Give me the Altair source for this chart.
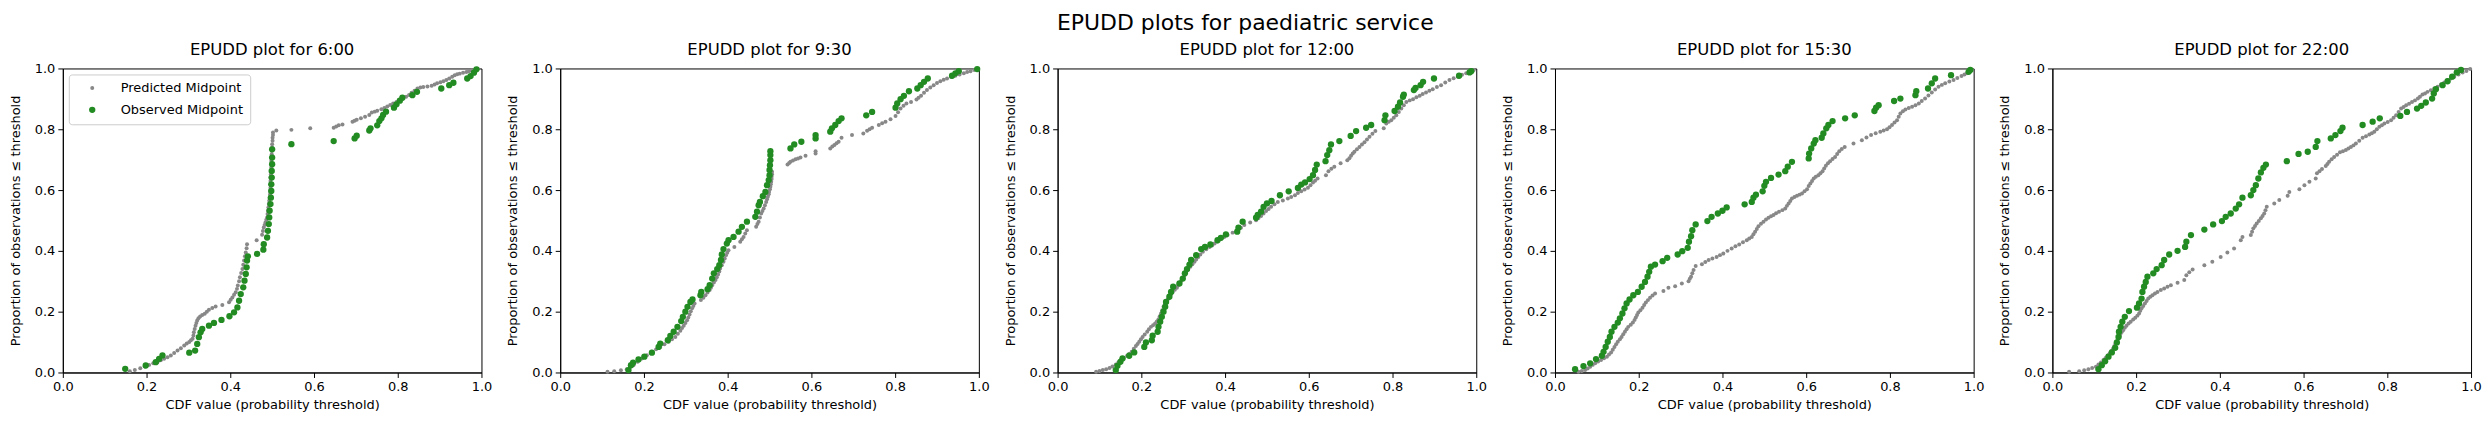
import altair as alt
import pandas as pd

TIMES = ["6:00", "9:30", "12:00", "15:30", "22:00"]
SERIES = ["Predicted Midpoint", "Observed Midpoint"]
COLORS = ["#888888", "#228B22"]
SIZES = [16, 40]
TICKS = [0.0, 0.2, 0.4, 0.6, 0.8, 1.0]

PRED_600 = [(0.160,0.004),(0.172,0.008),(0.185,0.014),(0.196,0.020),(0.206,0.025),(0.216,0.030),(0.226,0.034),
            (0.234,0.040),(0.242,0.045),(0.250,0.050),(0.258,0.056),(0.266,0.064),(0.274,0.072),(0.282,0.080),
            (0.290,0.089),(0.296,0.095),(0.302,0.100),(0.306,0.106),(0.310,0.111),(0.312,0.122),(0.313,0.132),
            (0.315,0.143),(0.317,0.154),(0.319,0.163),(0.321,0.171),(0.324,0.178),(0.328,0.184),(0.333,0.189),
            (0.339,0.193),(0.344,0.200),(0.349,0.206),(0.357,0.212),(0.365,0.217),(0.381,0.222),(0.397,0.231),
            (0.401,0.239),(0.405,0.247),(0.409,0.256),(0.413,0.264),(0.416,0.275),(0.418,0.286),(0.421,0.300),
            (0.423,0.313),(0.426,0.327),(0.429,0.340),(0.431,0.354),(0.433,0.368),(0.435,0.382),(0.437,0.395),
            (0.439,0.409),(0.440,0.422),(0.463,0.435),(0.476,0.453),(0.478,0.465),(0.480,0.477),(0.482,0.485),
            (0.484,0.493),(0.486,0.502),(0.488,0.510),(0.489,0.521),(0.490,0.532),(0.491,0.543),(0.492,0.554),
            (0.493,0.565),(0.494,0.575),(0.495,0.586),(0.495,0.597),(0.496,0.608),(0.496,0.619),(0.496,0.630),
            (0.496,0.641),(0.497,0.652),(0.497,0.663),(0.498,0.674),(0.498,0.685),(0.498,0.696),(0.498,0.707),
            (0.499,0.718),(0.499,0.729),(0.500,0.740),(0.500,0.751),(0.501,0.762),(0.501,0.772),(0.502,0.781),
            (0.502,0.789),(0.510,0.796),(0.546,0.798),(0.591,0.803),(0.647,0.805),(0.653,0.809),(0.659,0.813),
            (0.668,0.816),(0.692,0.825),(0.697,0.828),(0.702,0.831),(0.712,0.836),(0.722,0.841),(0.732,0.847),
            (0.738,0.855),(0.745,0.858),(0.751,0.861),(0.761,0.866),(0.768,0.870),(0.775,0.875),(0.782,0.880),
            (0.789,0.885),(0.797,0.890),(0.804,0.894),(0.812,0.900),(0.820,0.907),(0.827,0.913),(0.833,0.920),
            (0.840,0.927),(0.847,0.934),(0.854,0.937),(0.861,0.939),(0.871,0.941),(0.881,0.943),(0.888,0.947),
            (0.894,0.951),(0.902,0.955),(0.909,0.958),(0.916,0.962),(0.923,0.967),(0.930,0.973),(0.936,0.978),
            (0.942,0.981),(0.948,0.983),(0.956,0.986),(0.964,0.988),(0.970,0.991),(0.976,0.993),(0.984,0.996),
            (0.991,0.999)]
OBS_600 = [(0.149,0.012),(0.198,0.023),(0.222,0.034),(0.230,0.045),(0.238,0.056),(0.302,0.065),(0.316,0.072),
           (0.321,0.094),(0.325,0.116),(0.329,0.132),(0.333,0.143),(0.349,0.154),(0.361,0.163),(0.379,0.173),
           (0.398,0.185),(0.409,0.198),(0.417,0.214),(0.421,0.236),(0.425,0.258),(0.431,0.280),(0.434,0.302),
           (0.437,0.324),(0.439,0.346),(0.440,0.368),(0.442,0.382),(0.464,0.390),(0.479,0.404),(0.480,0.422),
           (0.488,0.444),(0.490,0.466),(0.492,0.488),(0.493,0.510),(0.494,0.532),(0.496,0.554),(0.497,0.575),
           (0.498,0.597),(0.498,0.619),(0.499,0.641),(0.499,0.663),(0.500,0.685),(0.500,0.707),(0.500,0.734),
           (0.546,0.751),(0.647,0.761),(0.697,0.770),(0.702,0.779),(0.732,0.796),(0.735,0.803),(0.751,0.813),
           (0.756,0.827),(0.761,0.836),(0.765,0.847),(0.772,0.858),(0.791,0.871),(0.797,0.882),(0.805,0.894),
           (0.811,0.904),(0.835,0.912),(0.846,0.923),(0.904,0.934),(0.923,0.945),(0.933,0.953),(0.966,0.967),
           (0.974,0.975),(0.982,0.986),(0.988,0.997)]

PRED_930 = [(0.113,0.002),(0.129,0.004),(0.145,0.007),(0.159,0.011),(0.167,0.017),(0.175,0.024),(0.185,0.035),
            (0.195,0.046),(0.207,0.057),(0.219,0.068),(0.229,0.076),(0.239,0.084),(0.249,0.093),(0.259,0.101),
            (0.267,0.109),(0.275,0.117),(0.281,0.127),(0.287,0.137),(0.291,0.146),(0.295,0.154),(0.299,0.163),
            (0.303,0.172),(0.306,0.181),(0.309,0.191),(0.312,0.201),(0.315,0.211),(0.318,0.219),(0.321,0.227),
            (0.336,0.238),(0.342,0.246),(0.347,0.254),(0.352,0.263),(0.357,0.271),(0.360,0.279),(0.363,0.287),
            (0.367,0.296),(0.371,0.304),(0.374,0.313),(0.377,0.322),(0.380,0.332),(0.382,0.342),(0.386,0.353),
            (0.390,0.364),(0.393,0.375),(0.396,0.386),(0.399,0.394),(0.402,0.402),(0.416,0.413),(0.430,0.430),
            (0.434,0.438),(0.438,0.446),(0.442,0.457),(0.446,0.468),(0.468,0.479),(0.471,0.488),(0.474,0.496),
            (0.477,0.510),(0.480,0.523),(0.483,0.531),(0.486,0.539),(0.489,0.550),(0.492,0.561),(0.494,0.570),
            (0.496,0.578),(0.498,0.586),(0.499,0.594),(0.501,0.603),(0.502,0.611),(0.503,0.619),(0.504,0.627),
            (0.505,0.636),(0.505,0.644),(0.506,0.652),(0.506,0.660),(0.543,0.684),(0.547,0.689),(0.550,0.693),
            (0.556,0.697),(0.562,0.701),(0.568,0.704),(0.574,0.707),(0.586,0.713),(0.610,0.720),(0.610,0.728),
            (0.645,0.737),(0.650,0.743),(0.655,0.748),(0.660,0.754),(0.665,0.759),(0.672,0.772),(0.697,0.781),
            (0.724,0.786),(0.733,0.795),(0.739,0.800),(0.745,0.805),(0.761,0.814),(0.769,0.820),(0.777,0.825),
            (0.789,0.833),(0.801,0.844),(0.807,0.856),(0.813,0.868),(0.820,0.877),(0.827,0.885),(0.838,0.890),
            (0.851,0.898),(0.856,0.904),(0.862,0.910),(0.869,0.920),(0.876,0.929),(0.884,0.937),(0.892,0.945),
            (0.900,0.952),(0.908,0.958),(0.916,0.963),(0.924,0.967),(0.934,0.972),(0.944,0.976),(0.954,0.980),
            (0.964,0.984),(0.972,0.988),(0.980,0.991),(0.989,0.995),(0.998,0.998)]
OBS_930 = [(0.163,0.008),(0.169,0.024),(0.174,0.032),(0.187,0.043),(0.201,0.052),(0.219,0.065),(0.235,0.084),
           (0.239,0.095),(0.257,0.106),(0.263,0.120),(0.271,0.134),(0.280,0.150),(0.289,0.169),(0.293,0.183),
           (0.299,0.200),(0.304,0.216),(0.311,0.232),(0.316,0.240),(0.335,0.254),(0.337,0.265),(0.352,0.274),
           (0.357,0.287),(0.363,0.309),(0.367,0.326),(0.375,0.340),(0.380,0.353),(0.384,0.370),(0.386,0.388),
           (0.390,0.406),(0.398,0.424),(0.402,0.435),(0.414,0.446),(0.426,0.463),(0.434,0.479),(0.446,0.496),
           (0.466,0.512),(0.470,0.529),(0.474,0.550),(0.477,0.561),(0.484,0.580),(0.490,0.594),(0.494,0.616),
           (0.498,0.633),(0.500,0.649),(0.500,0.666),(0.501,0.682),(0.502,0.698),(0.502,0.715),(0.502,0.728),
           (0.550,0.737),(0.559,0.750),(0.576,0.759),(0.610,0.770),(0.610,0.781),(0.645,0.792),(0.649,0.803),
           (0.657,0.814),(0.665,0.827),(0.672,0.836),(0.731,0.846),(0.745,0.857),(0.801,0.871),(0.805,0.885),
           (0.813,0.899),(0.821,0.910),(0.833,0.925),(0.853,0.934),(0.861,0.945),(0.869,0.956),(0.878,0.967),
           (0.936,0.976),(0.944,0.984),(0.952,0.991),(0.996,0.998)]

PRED_1200 = [(0.092,0.002),(0.100,0.005),(0.108,0.008),(0.116,0.011),(0.124,0.015),(0.131,0.020),(0.139,0.026),
             (0.145,0.033),(0.151,0.041),(0.158,0.048),(0.166,0.055),(0.171,0.061),(0.177,0.068),(0.182,0.078),
             (0.187,0.087),(0.191,0.094),(0.195,0.101),(0.199,0.109),(0.203,0.117),(0.208,0.125),(0.214,0.134),
             (0.218,0.142),(0.223,0.150),(0.228,0.155),(0.233,0.161),(0.237,0.168),(0.241,0.175),(0.244,0.185),
             (0.247,0.194),(0.250,0.205),(0.253,0.216),(0.256,0.224),(0.259,0.232),(0.263,0.240),(0.267,0.249),
             (0.271,0.257),(0.275,0.265),(0.280,0.272),(0.285,0.279),(0.288,0.286),(0.291,0.293),(0.295,0.301),
             (0.299,0.309),(0.303,0.319),(0.307,0.329),(0.312,0.338),(0.317,0.348),(0.322,0.356),(0.327,0.364),
             (0.331,0.372),(0.336,0.380),(0.341,0.388),(0.347,0.397),(0.355,0.405),(0.363,0.413),(0.369,0.418),
             (0.375,0.424),(0.382,0.431),(0.390,0.439),(0.398,0.446),(0.406,0.452),(0.418,0.460),(0.430,0.468),
             (0.438,0.476),(0.446,0.485),(0.460,0.493),(0.474,0.501),(0.480,0.508),(0.486,0.515),(0.492,0.523),
             (0.498,0.531),(0.504,0.538),(0.510,0.545),(0.518,0.553),(0.526,0.561),(0.538,0.566),(0.550,0.572),
             (0.558,0.577),(0.567,0.583),(0.574,0.590),(0.582,0.596),(0.590,0.602),(0.598,0.608),(0.604,0.616),
             (0.610,0.625),(0.615,0.631),(0.621,0.638),(0.641,0.649),(0.647,0.662),(0.654,0.670),(0.661,0.677),
             (0.676,0.688),(0.692,0.698),(0.697,0.705),(0.701,0.713),(0.705,0.720),(0.709,0.726),(0.715,0.734),
             (0.721,0.742),(0.727,0.750),(0.733,0.757),(0.739,0.766),(0.745,0.775),(0.752,0.785),(0.759,0.794),
             (0.779,0.803),(0.785,0.819),(0.791,0.825),(0.797,0.830),(0.803,0.838),(0.809,0.846),(0.815,0.857),
             (0.821,0.868),(0.827,0.879),(0.833,0.890),(0.841,0.895),(0.849,0.899),(0.857,0.905),(0.865,0.910),
             (0.872,0.916),(0.880,0.921),(0.888,0.927),(0.896,0.932),(0.906,0.939),(0.916,0.945),(0.926,0.954),
             (0.936,0.962),(0.946,0.968),(0.956,0.973),(0.966,0.979),(0.976,0.984),(0.985,0.990),(0.994,0.995)]
OBS_1200 = [(0.139,0.008),(0.143,0.022),(0.150,0.035),(0.155,0.046),(0.171,0.055),(0.183,0.066),(0.207,0.084),
            (0.211,0.099),(0.225,0.106),(0.227,0.121),(0.239,0.134),(0.241,0.150),(0.245,0.167),(0.249,0.183),
            (0.253,0.200),(0.257,0.216),(0.259,0.232),(0.267,0.249),(0.271,0.265),(0.276,0.282),(0.291,0.293),
            (0.299,0.309),(0.304,0.326),(0.309,0.340),(0.315,0.355),(0.319,0.370),(0.331,0.386),(0.343,0.406),
            (0.352,0.413),(0.365,0.421),(0.382,0.435),(0.390,0.443),(0.402,0.454),(0.429,0.463),(0.432,0.476),
            (0.442,0.496),(0.474,0.509),(0.478,0.518),(0.486,0.529),(0.492,0.545),(0.500,0.556),(0.511,0.564),
            (0.531,0.583),(0.552,0.596),(0.574,0.607),(0.582,0.618),(0.591,0.625),(0.602,0.636),(0.610,0.649),
            (0.615,0.666),(0.619,0.684),(0.640,0.695),(0.644,0.715),(0.649,0.731),(0.653,0.750),(0.673,0.761),
            (0.700,0.778),(0.713,0.794),(0.737,0.805),(0.749,0.814),(0.781,0.830),(0.783,0.846),(0.805,0.860),
            (0.813,0.874),(0.818,0.888),(0.825,0.907),(0.827,0.914),(0.851,0.929),(0.855,0.936),(0.867,0.945),
            (0.873,0.956),(0.899,0.967),(0.959,0.976),(0.984,0.987),(0.988,0.991)]

PRED_1530 = [(0.056,0.002),(0.064,0.005),(0.072,0.008),(0.078,0.013),(0.084,0.019),(0.090,0.025),(0.096,0.030),
             (0.103,0.036),(0.110,0.041),(0.117,0.047),(0.124,0.052),(0.129,0.059),(0.134,0.066),(0.138,0.075),
             (0.142,0.084),(0.146,0.093),(0.150,0.101),(0.155,0.109),(0.159,0.117),(0.163,0.126),(0.167,0.134),
             (0.171,0.142),(0.175,0.150),(0.181,0.157),(0.186,0.164),(0.190,0.173),(0.193,0.181),(0.196,0.189),
             (0.199,0.197),(0.204,0.205),(0.209,0.213),(0.213,0.222),(0.217,0.230),(0.222,0.238),(0.227,0.246),
             (0.233,0.253),(0.239,0.260),(0.259,0.268),(0.271,0.279),(0.287,0.284),(0.303,0.293),(0.319,0.300),
             (0.322,0.308),(0.325,0.315),(0.328,0.326),(0.331,0.337),(0.336,0.350),(0.351,0.356),(0.359,0.363),
             (0.367,0.370),(0.376,0.375),(0.386,0.380),(0.394,0.386),(0.402,0.391),(0.412,0.400),(0.422,0.408),
             (0.431,0.415),(0.440,0.421),(0.449,0.428),(0.458,0.435),(0.464,0.441),(0.470,0.446),(0.474,0.455),
             (0.478,0.463),(0.482,0.472),(0.486,0.481),(0.492,0.489),(0.498,0.496),(0.504,0.503),(0.510,0.509),
             (0.516,0.514),(0.522,0.518),(0.528,0.524),(0.535,0.529),(0.543,0.534),(0.550,0.539),(0.554,0.548),
             (0.558,0.556),(0.562,0.564),(0.566,0.572),(0.572,0.577),(0.578,0.581),(0.584,0.585),(0.590,0.589),
             (0.596,0.596),(0.602,0.603),(0.606,0.613),(0.610,0.622),(0.614,0.630),(0.618,0.638),(0.623,0.644),
             (0.629,0.649),(0.634,0.655),(0.639,0.662),(0.643,0.671),(0.647,0.680),(0.652,0.688),(0.657,0.695),
             (0.663,0.702),(0.669,0.709),(0.674,0.719),(0.679,0.728),(0.685,0.735),(0.692,0.742),(0.713,0.753),
             (0.733,0.764),(0.744,0.773),(0.755,0.781),(0.766,0.787),(0.777,0.792),(0.785,0.796),(0.793,0.800),
             (0.799,0.807),(0.805,0.814),(0.811,0.822),(0.817,0.830),(0.821,0.841),(0.825,0.852),(0.831,0.859),
             (0.837,0.865),(0.845,0.870),(0.853,0.874),(0.861,0.879),(0.869,0.885),(0.876,0.893),(0.884,0.901),
             (0.892,0.911),(0.900,0.921),(0.908,0.931),(0.916,0.940),(0.924,0.946),(0.932,0.951),(0.942,0.957),
             (0.952,0.962),(0.961,0.969),(0.971,0.975),(0.978,0.980),(0.984,0.984),(0.990,0.990),(0.996,0.995)]
OBS_1530 = [(0.048,0.011),(0.068,0.021),(0.084,0.030),(0.098,0.044),(0.112,0.055),(0.116,0.068),(0.121,0.084),
            (0.126,0.101),(0.131,0.117),(0.135,0.134),(0.142,0.150),(0.150,0.164),(0.155,0.178),(0.161,0.194),
            (0.166,0.211),(0.171,0.227),(0.178,0.240),(0.187,0.254),(0.198,0.265),(0.207,0.282),(0.215,0.298),
            (0.221,0.315),(0.225,0.331),(0.229,0.348),(0.239,0.355),(0.257,0.366),(0.268,0.377),(0.293,0.388),
            (0.304,0.399),(0.317,0.410),(0.320,0.430),(0.325,0.448),(0.328,0.468),(0.336,0.487),(0.364,0.498),
            (0.374,0.512),(0.389,0.523),(0.400,0.532),(0.410,0.543),(0.453,0.553),(0.470,0.561),(0.474,0.575),
            (0.480,0.585),(0.496,0.596),(0.500,0.614),(0.504,0.627),(0.516,0.640),(0.534,0.651),(0.550,0.662),
            (0.556,0.677),(0.566,0.693),(0.606,0.704),(0.607,0.720),(0.612,0.737),(0.618,0.753),(0.622,0.764),
            (0.637,0.772),(0.641,0.786),(0.648,0.803),(0.653,0.814),(0.663,0.827),(0.693,0.836),(0.716,0.846),
            (0.763,0.860),(0.767,0.871),(0.773,0.879),(0.810,0.893),(0.825,0.901),(0.861,0.912),(0.863,0.925),
            (0.891,0.934),(0.900,0.951),(0.908,0.967),(0.946,0.978),(0.988,0.989),(0.992,0.995)]

PRED_2200 = [(0.040,0.002),(0.064,0.004),(0.076,0.007),(0.086,0.011),(0.095,0.015),(0.104,0.019),(0.110,0.026),
             (0.116,0.033),(0.122,0.041),(0.127,0.048),(0.132,0.056),(0.137,0.063),(0.141,0.071),(0.145,0.079),
             (0.148,0.087),(0.151,0.095),(0.155,0.104),(0.158,0.112),(0.161,0.120),(0.163,0.128),(0.166,0.134),
             (0.169,0.139),(0.173,0.147),(0.177,0.154),(0.182,0.161),(0.187,0.167),(0.193,0.174),(0.198,0.180),
             (0.203,0.187),(0.207,0.194),(0.210,0.203),(0.213,0.211),(0.217,0.219),(0.221,0.227),(0.225,0.235),
             (0.229,0.243),(0.234,0.249),(0.239,0.254),(0.245,0.260),(0.251,0.265),(0.259,0.271),(0.267,0.276),
             (0.275,0.282),(0.283,0.287),(0.299,0.295),(0.315,0.304),(0.320,0.320),(0.327,0.330),(0.335,0.339),
             (0.363,0.353),(0.382,0.364),(0.402,0.380),(0.418,0.395),(0.434,0.408),(0.450,0.435),(0.454,0.446),
             (0.474,0.452),(0.477,0.463),(0.480,0.474),(0.484,0.482),(0.488,0.490),(0.493,0.498),(0.498,0.507),
             (0.502,0.515),(0.506,0.523),(0.509,0.534),(0.512,0.545),(0.530,0.556),(0.542,0.567),(0.562,0.581),
             (0.566,0.594),(0.590,0.603),(0.602,0.616),(0.614,0.627),(0.629,0.638),(0.632,0.655),(0.638,0.662),
             (0.644,0.669),(0.653,0.679),(0.657,0.686),(0.661,0.693),(0.667,0.701),(0.673,0.709),(0.680,0.716),
             (0.687,0.724),(0.694,0.728),(0.701,0.732),(0.707,0.737),(0.713,0.742),(0.719,0.747),(0.725,0.753),
             (0.733,0.762),(0.741,0.772),(0.749,0.777),(0.757,0.783),(0.763,0.787),(0.769,0.792),(0.775,0.800),
             (0.781,0.808),(0.787,0.813),(0.793,0.819),(0.801,0.824),(0.809,0.830),(0.815,0.838),(0.821,0.846),
             (0.827,0.857),(0.833,0.868),(0.839,0.873),(0.845,0.879),(0.852,0.884),(0.859,0.890),(0.866,0.895),
             (0.873,0.901),(0.878,0.907),(0.884,0.914),(0.890,0.918),(0.896,0.923),(0.904,0.928),(0.912,0.934),
             (0.920,0.940),(0.928,0.947),(0.936,0.954),(0.944,0.962),(0.952,0.967),(0.960,0.973),(0.970,0.980),
             (0.980,0.987),(0.989,0.992),(0.998,0.998)]
OBS_2200 = [(0.110,0.011),(0.118,0.024),(0.126,0.037),(0.134,0.052),(0.142,0.066),(0.150,0.081),(0.154,0.099),
            (0.158,0.117),(0.159,0.134),(0.163,0.150),(0.167,0.167),(0.173,0.183),(0.183,0.202),(0.202,0.213),
            (0.207,0.227),(0.213,0.243),(0.215,0.265),(0.219,0.282),(0.223,0.298),(0.227,0.315),(0.241,0.326),
            (0.249,0.340),(0.261,0.353),(0.267,0.370),(0.279,0.388),(0.299,0.400),(0.317,0.413),(0.320,0.430),
            (0.331,0.452),(0.363,0.470),(0.384,0.487),(0.405,0.498),(0.414,0.512),(0.426,0.523),(0.438,0.539),
            (0.446,0.553),(0.454,0.575),(0.474,0.583),(0.480,0.600),(0.486,0.616),(0.492,0.638),(0.498,0.658),
            (0.504,0.673),(0.510,0.684),(0.560,0.695),(0.588,0.719),(0.610,0.726),(0.629,0.742),(0.633,0.761),
            (0.665,0.770),(0.676,0.781),(0.688,0.794),(0.693,0.805),(0.741,0.814),(0.765,0.825),(0.782,0.836),
            (0.831,0.844),(0.847,0.857),(0.871,0.868),(0.881,0.877),(0.892,0.888),(0.907,0.901),(0.911,0.918),
            (0.916,0.932),(0.932,0.945),(0.944,0.958),(0.955,0.973),(0.966,0.987),(0.976,0.995)]

PANELS = [(TIMES[0], PRED_600, OBS_600), (TIMES[1], PRED_930, OBS_930), (TIMES[2], PRED_1200, OBS_1200),
          (TIMES[3], PRED_1530, OBS_1530), (TIMES[4], PRED_2200, OBS_2200)]

FONT = "DejaVu Sans"


def make_panel(time, pred, obs, show_legend):
    rows = [{"x": x, "y": y, "s": SERIES[0]} for x, y in pred] + \
           [{"x": x, "y": y, "s": SERIES[1]} for x, y in obs]
    df = pd.DataFrame(rows)
    if show_legend:
        leg = alt.Legend(title=None, orient="top-left", offset=6, padding=7,
                         strokeColor="#cccccc", fillColor="white", cornerRadius=3,
                         labelFontSize=13, labelFont=FONT, labelColor="black",
                         symbolType="circle", symbolStrokeWidth=0, rowPadding=8,
                         symbolOffset=10, labelOffset=22)
    else:
        leg = None
    axis_common = dict(values=TICKS, format=".1f", grid=False, tickSize=5, labelFlush=False,
                       labelFontSize=13, titleFontSize=13, titleFontWeight="normal",
                       labelFont=FONT, titleFont=FONT, domainColor="black", tickColor="black",
                       labelColor="black", titleColor="black", labelPadding=3)
    return alt.Chart(df).mark_circle(opacity=1, strokeWidth=0).encode(
        x=alt.X("x:Q", scale=alt.Scale(domain=[0, 1], nice=False),
                axis=alt.Axis(title="CDF value (probability threshold)", titlePadding=5, **axis_common)),
        y=alt.Y("y:Q", scale=alt.Scale(domain=[0, 1], nice=False),
                axis=alt.Axis(title="Proportion of observations \u2264 threshold", titlePadding=12, **axis_common)),
        color=alt.Color("s:N", scale=alt.Scale(domain=SERIES, range=COLORS), legend=leg),
        size=alt.Size("s:N", scale=alt.Scale(domain=SERIES, range=SIZES), legend=leg),
    ).properties(
        width=420, height=305,
        title=alt.TitleParams(text=f"EPUDD plot for {time}", fontSize=16.5, font=FONT,
                              fontWeight="normal", color="black", offset=4, anchor="middle"),
    )


panels = [make_panel(t, p, o, i == 0) for i, (t, p, o) in enumerate(PANELS)]

chart = alt.hconcat(*panels, spacing=13).resolve_scale(
    color="independent", size="independent"
).resolve_legend(
    color="independent", size="independent"
).properties(
    title=alt.TitleParams(text="EPUDD plots for paediatric service", fontSize=22, font=FONT,
                          fontWeight="normal", color="black", anchor="middle", offset=7),
    padding={"left": 0, "top": 3, "right": 0, "bottom": 0},
).configure(font=FONT).configure_view(stroke="black", strokeWidth=1)

chart.save("out.html", embed_options={"renderer": "svg", "actions": False})
